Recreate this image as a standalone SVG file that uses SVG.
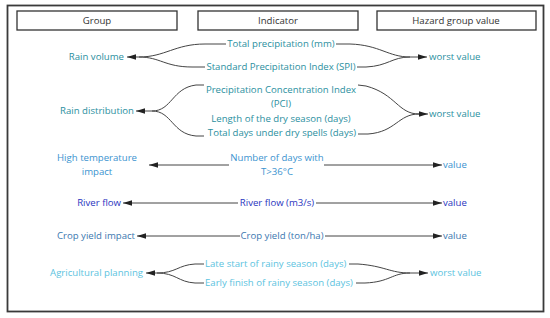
<svg xmlns="http://www.w3.org/2000/svg" width="550" height="318" viewBox="0 0 550 318">
<style>
text{font-family:"Open Sans","Noto Sans","DejaVu Sans",sans-serif;font-size:9.6px}
.hd{fill:#333;text-anchor:middle}
.hbox{fill:#fff;stroke:#333;stroke-width:1.3}
.c{fill:none;stroke:#444;stroke-width:1}
.a{marker-end:url(#ah)}
.teal{fill:#2b8fa0}
.tb{fill:#3b93cf}
.rf{fill:#2a35c0}
.cy{fill:#3c78b0}
.ag{fill:#5cc3e0}
.m{text-anchor:middle}
.e{text-anchor:end}
</style>
<defs>
<marker id="ah" markerUnits="userSpaceOnUse" markerWidth="10" markerHeight="6" refX="9" refY="2.75" orient="auto">
<path d="M0,0 L9,2.75 L0,5.5 z" fill="#222"/>
</marker>
</defs>
<rect x="0" y="0" width="550" height="318" fill="#fff"/>
<rect x="7.5" y="5.5" width="536" height="306" fill="none" stroke="#3a3a3a" stroke-width="1.8"/>
<g id="hdr-group"><rect class="hbox" x="17" y="11" width="160" height="19"/><text class="hd" x="97" y="23.8">Group</text></g>
<g id="hdr-indicator"><rect class="hbox" x="198" y="11" width="160" height="19"/><text class="hd" x="278" y="23.8">Indicator</text></g>
<g id="hdr-hazard"><rect class="hbox" x="377" y="11" width="159" height="19"/><text class="hd" x="456" y="23.8">Hazard group value</text></g>

<g id="connectors">
<!-- row 1 -->
<path class="c" d="M226,44 L205,44 C175,44 165,57 139,57"/>
<path class="c" d="M205,67 L192,67 C165,67 160,57 139,57"/>
<path class="c a" d="M139,57 L127,57"/>
<path class="c" d="M336,44 L350,44 C380,45 388,57 410,57"/>
<path class="c" d="M357,67 L366,67 C388,66 392,57 410,57"/>
<path class="c a" d="M410,57 L427,57"/>
<!-- row 2 -->
<path class="c" d="M204,85 L196,85 C172,88 172,111 152,111"/>
<path class="c" d="M204,136 L196,136 C172,134 172,111 152,111"/>
<path class="c a" d="M152,111 L136,111"/>
<path class="c" d="M358,85 L366,86 C396,94 398,114 419,114"/>
<path class="c" d="M358,134 L368,134 C396,132 398,114 419,114"/>
<path class="c a" d="M419,114 L428,114"/>
<!-- row 3 -->
<path class="c a" d="M229,165 L149,165"/>
<path class="c a" d="M324,165 L442,165"/>
<!-- row 4 -->
<path class="c a" d="M238,203 L123,203"/>
<path class="c a" d="M316,203 L442,203"/>
<!-- row 5 -->
<path class="c a" d="M240,236 L137,236"/>
<path class="c a" d="M325,236 L442,236"/>
<!-- row 6 -->
<path class="c" d="M204,264 L195,264 C178,265 176,273 157,273"/>
<path class="c" d="M204,283 L195,283 C178,282 176,273 157,273"/>
<path class="c a" d="M157,273 L146,273"/>
<path class="c" d="M349,264 L358,264 C385,266 390,273 410,273"/>
<path class="c" d="M356,283 L365,283 C390,282 392,273 410,273"/>
<path class="c a" d="M410,273 L428,273"/>
</g>

<g id="rain-volume"><text class="teal e" x="124" y="60.4">Rain volume</text></g>
<g id="total-precip"><text class="teal m" x="281" y="47.4">Total precipitation (mm)</text></g>
<g id="spi"><text class="teal m" x="281" y="70.2">Standard Precipitation Index (SPI)</text></g>
<g id="worst-1"><text class="teal" x="429" y="60.4">worst value</text></g>

<g id="rain-distribution"><text class="teal e" x="134" y="114.4">Rain distribution</text></g>
<g id="pci"><text class="teal m" x="281" y="93.4">Precipitation Concentration Index</text><text class="teal m" x="281" y="107.4">(PCI)</text></g>
<g id="dry-season"><text class="teal m" x="281" y="121.6">Length of the dry season (days)</text></g>
<g id="dry-spells"><text class="teal m" x="282" y="135.6">Total days under dry spells (days)</text></g>
<g id="worst-2"><text class="teal" x="429" y="117.4">worst value</text></g>

<g id="high-temp"><text class="tb m" x="97" y="161.4">High temperature</text><text class="tb m" x="97" y="175.4">impact</text></g>
<g id="days-36"><text class="tb m" x="277" y="161.4">Number of days with</text><text class="tb m" x="277" y="175.4">T&gt;36°C</text></g>
<g id="value-3"><text class="tb" x="443" y="168.4">value</text></g>

<g id="river-flow"><text class="rf e" x="121" y="206.4">River flow</text></g>
<g id="river-flow-ind"><text class="rf m" x="277" y="206.4">River flow (m3/s)</text></g>
<g id="value-4"><text class="rf" x="443" y="206.4">value</text></g>

<g id="crop-yield"><text class="cy e" x="135" y="239.4">Crop yield impact</text></g>
<g id="crop-yield-ind"><text class="cy m" x="282" y="239.4">Crop yield (ton/ha)</text></g>
<g id="value-5"><text class="cy" x="443" y="239.4">value</text></g>

<g id="agri"><text class="ag e" x="143" y="276.4">Agricultural planning</text></g>
<g id="late-start"><text class="ag" x="205" y="267.4">Late start of rainy season (days)</text></g>
<g id="early-finish"><text class="ag" x="205" y="286.4">Early finish of rainy season (days)</text></g>
<g id="worst-6"><text class="ag" x="430" y="276.4">worst value</text></g>
</svg>
